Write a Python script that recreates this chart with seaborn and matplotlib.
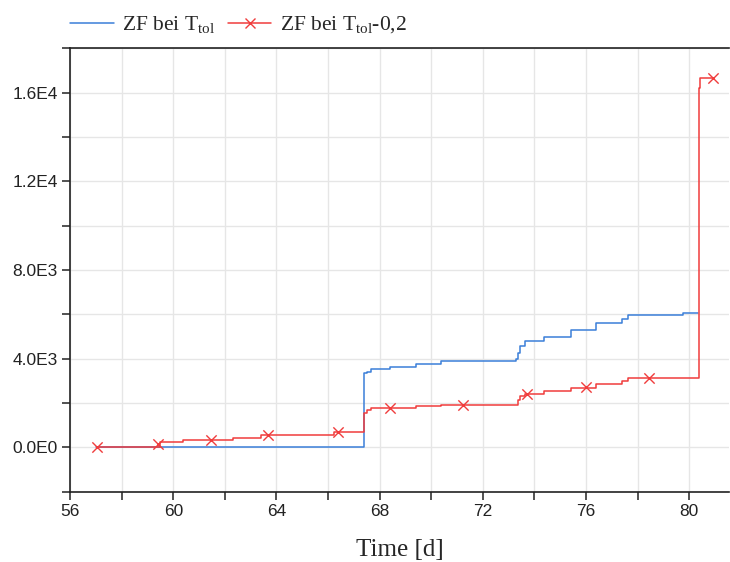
import numpy as np
import pandas as pd
import matplotlib
matplotlib.use('Agg')
import matplotlib.pyplot as plt
from matplotlib.lines import Line2D
from matplotlib.ticker import MultipleLocator
import seaborn as sns

# ZF bei T_tol (step series)
blue_t = [57.0, 67.38, 67.5, 67.68, 68.39, 69.40, 70.39, 73.29, 73.36, 73.42,
          73.65, 74.36, 75.40, 76.39, 77.40, 77.63, 79.74, 80.35]
blue_v = [0, 3340, 3420, 3530, 3640, 3740, 3890, 4010, 4240, 4570,
          4810, 4990, 5300, 5630, 5780, 5975, 6050, 6050]

# ZF bei T_tol-0,2 (step series)
red_t = [57.03, 59.47, 60.39, 62.30, 63.40, 66.23, 67.38, 67.49, 67.68, 69.40,
         70.39, 73.36, 73.42, 73.65, 74.36, 75.40, 76.39, 77.40, 77.63,
         80.37, 80.42, 80.9]
red_v = [0, 225, 335, 425, 560, 680, 1550, 1675, 1780, 1856,
         1932, 2130, 2310, 2430, 2550, 2700, 2850, 2990, 3110,
         16190, 16650, 16650]

# marker positions on the red curve
mark_t = [57.03, 59.42, 61.45, 63.68, 66.39, 68.39, 71.22, 73.70, 76.0, 78.45, 80.9]
mark_v = [0, 150, 335, 560, 680, 1780, 1932, 2430, 2720, 3110, 16650]

xticks = [56, 60, 64, 68, 72, 76, 80]
yticks = [0, 4000, 8000, 12000, 16000]
ytick_labels = ['0.0E0', '4.0E3', '8.0E3', '1.2E4', '1.6E4']

blue = '#3b7fd9'
red = '#f03c3c'

sns.set_style('white')
plt.rcParams['font.family'] = ['Liberation Sans', 'DejaVu Sans']

fig = plt.figure(figsize=(7.3, 5.62), dpi=100)
ax = fig.add_axes([0.096, 0.125, 0.903, 0.789])

blue_df = pd.DataFrame({'t': blue_t, 'v': blue_v})
red_df = pd.DataFrame({'t': red_t, 'v': red_v})
mark_df = pd.DataFrame({'t': mark_t, 'v': mark_v})

sns.lineplot(data=blue_df, x='t', y='v', drawstyle='steps-post', color=blue,
             linewidth=1.1, estimator=None, sort=False, ax=ax, zorder=3)
sns.lineplot(data=red_df, x='t', y='v', drawstyle='steps-post', color=red,
             linewidth=1.1, estimator=None, sort=False, ax=ax, zorder=4)
sns.scatterplot(data=mark_df, x='t', y='v', marker='x', s=55, color=red,
                linewidth=1.0, ax=ax, zorder=5)

ax.set_xlim(56, 81.55)
ax.set_ylim(-2000, 18000)
ax.set_xticks(xticks)
ax.set_yticks(yticks)
ax.set_yticklabels(ytick_labels)
ax.xaxis.set_minor_locator(MultipleLocator(2))
ax.yaxis.set_minor_locator(MultipleLocator(2000))
ax.grid(True, which='both', color='#e6e6e6', linewidth=1.0, zorder=0)
ax.set_axisbelow(True)

for side in ['left', 'bottom', 'top']:
    ax.spines[side].set_visible(True)
    ax.spines[side].set_color('#222222')
    ax.spines[side].set_linewidth(1.2)
ax.spines['right'].set_visible(False)

ax.tick_params(which='both', direction='out', length=6, width=1.1,
               color='#222222', left=True, bottom=True)
ax.tick_params(labelsize=12.5, labelcolor='#222222', pad=3)

ax.set_ylabel('')
ax.set_xlabel('Time [d]', fontsize=18, family=['Liberation Serif', 'DejaVu Serif'],
              labelpad=14)

handles = [
    Line2D([0], [0], color=blue, linewidth=1.1),
    Line2D([0], [0], color=red, linewidth=1.1, marker='x', markersize=7),
]
labels = [r'ZF bei T$_{\mathregular{tol}}$', r'ZF bei T$_{\mathregular{tol}}$-0,2']
fig.legend(handles, labels, loc='center left', bbox_to_anchor=(0.07, 0.955),
           ncol=2, frameon=False, handlelength=2.0, handletextpad=0.4,
           columnspacing=0.6, prop={'family': 'Liberation Serif', 'size': 15.5})

fig.savefig('out.png', dpi=100)
